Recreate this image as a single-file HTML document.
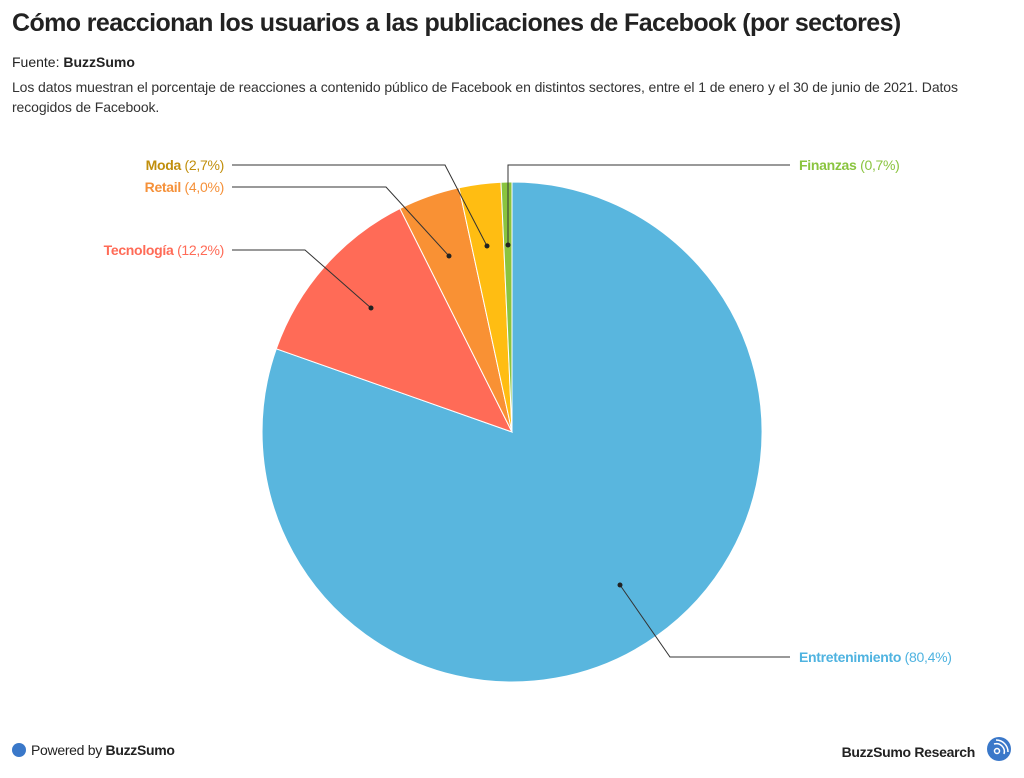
<!DOCTYPE html>
<html><head><meta charset="utf-8"><style>
body{margin:0;width:1024px;height:778px;background:#fff;font-family:"Liberation Sans",sans-serif;color:#222;position:relative;overflow:hidden}
h1{position:absolute;left:12px;top:9px;margin:0;font-size:25px;font-weight:bold;color:#222;letter-spacing:-0.6px}
.src{position:absolute;left:12px;top:54px;font-size:14px}
.desc{position:absolute;left:12px;top:77px;width:990px;font-size:14px;line-height:20px;color:#333;letter-spacing:-0.1px}
</style></head><body>
<h1>Cómo reaccionan los usuarios a las publicaciones de Facebook (por sectores)</h1>
<div class="src">Fuente: <b>BuzzSumo</b></div>
<div class="desc">Los datos muestran el porcentaje de reacciones a contenido público de Facebook en distintos sectores, entre el 1 de enero y el 30 de junio de 2021. Datos recogidos de Facebook.</div>
<svg width="1024" height="778" style="position:absolute;left:0;top:0" font-family="Liberation Sans, sans-serif" font-size="14" letter-spacing="-0.3">
<g stroke="#fff" stroke-width="1">
<path d="M512,432 L512,182 A250,250 0 1 1 276.3,348.8 Z" fill="#59b6de"/>
<path d="M512,432 L276.3,348.8 A250,250 0 0 1 399.9,208.5 Z" fill="#ff6b57"/>
<path d="M512,432 L399.9,208.5 A250,250 0 0 1 459.0,187.7 Z" fill="#f99134"/>
<path d="M512,432 L459.0,187.7 A250,250 0 0 1 501.0,182.2 Z" fill="#ffbd12"/>
<path d="M512,432 L501.0,182.2 A250,250 0 0 1 512,182 Z" fill="#8ac43f"/>
</g>
<g stroke="#333" stroke-width="1" fill="none">
<polyline points="232,165 445,165 487,246"/>
<polyline points="232,187 386,187 449,256"/>
<polyline points="232,250 305,250 371,308"/>
<polyline points="508,245 508,165 790,165"/>
<polyline points="620,585 670,657 790,657"/>
</g>
<g fill="#222"><circle cx="487" cy="246" r="2.5"/><circle cx="449" cy="256" r="2.5"/><circle cx="371" cy="308" r="2.5"/><circle cx="508" cy="245" r="2.5"/><circle cx="620" cy="585" r="2.5"/></g>
<text x="224" y="170" text-anchor="end" fill="#c18f0d"><tspan font-weight="bold">Moda</tspan> (2,7%)</text>
<text x="224" y="192" text-anchor="end" fill="#f5913a"><tspan font-weight="bold">Retail</tspan> (4,0%)</text>
<text x="224" y="255" text-anchor="end" fill="#ff6b57"><tspan font-weight="bold">Tecnología</tspan> (12,2%)</text>
<text x="799" y="170" fill="#8ac43f"><tspan font-weight="bold">Finanzas</tspan> (0,7%)</text>
<text x="799" y="662" fill="#4fb3e0"><tspan font-weight="bold">Entretenimiento</tspan> (80,4%)</text>
<circle cx="19" cy="750" r="7" fill="#3a78c9"/>
<text x="31" y="755" fill="#222">Powered by <tspan font-weight="bold">BuzzSumo</tspan></text>
<text x="975" y="757" text-anchor="end" font-weight="bold" fill="#222">BuzzSumo Research</text>
<circle cx="999" cy="749" r="12" fill="#3a78c9"/>
<circle cx="997" cy="751" r="2.5" fill="none" stroke="#fff" stroke-width="1.5"/>
<path d="M994,744 A8,8 0 0 1 1004,754" fill="none" stroke="#fff" stroke-width="1.5"/>
<path d="M996,740 A12,12 0 0 1 1008,752" fill="none" stroke="#fff" stroke-width="1.5"/>
</svg>
</body></html>
